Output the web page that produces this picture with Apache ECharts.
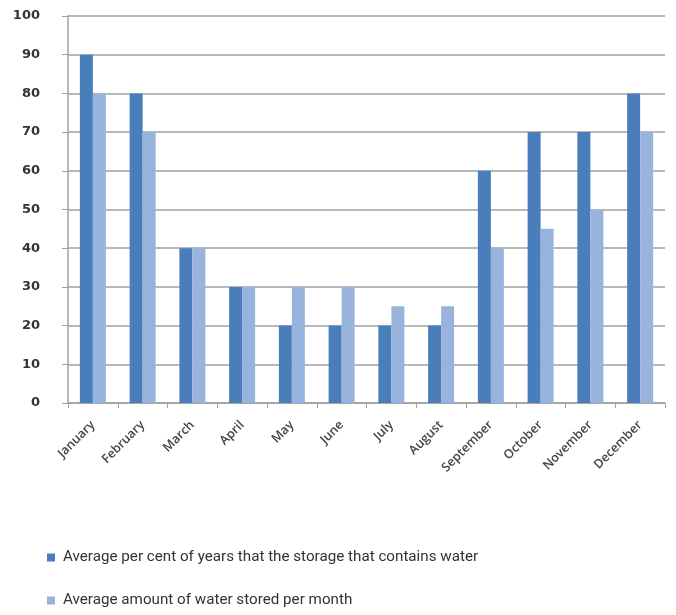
<!DOCTYPE html>
<html>
<head>
<meta charset="utf-8">
<script src="https://cdn.jsdelivr.net/npm/echarts@6/dist/echarts.min.js"></script>
<style>
  html, body { margin: 0; padding: 0; background: #fff; }
  #chart { width: 676px; height: 615px; }
</style>
</head>
<body>
<div id="chart"></div>
<script>
// Monthly water storage figures
const months = ['January', 'February', 'March', 'April', 'May', 'June',
                'July', 'August', 'September', 'October', 'November', 'December'];
const yearsWithWater = [90, 80, 40, 30, 20, 20, 20, 20, 60, 70, 70, 80];
const amountStored = [80, 70, 40, 30, 30, 30, 25, 25, 40, 45, 50, 70];
const seriesNames = [
  'Average per cent of years that the storage that contains water',
  'Average amount of water stored per month'
];

// One legend row per series, stacked below the plot
function legendRow(name, top) {
  return {
    orient: 'vertical',
    left: 42,
    top: top,
    itemWidth: 8,
    itemHeight: 8,
    icon: 'rect',
    textStyle: {
      fontFamily: 'Roboto',
      fontSize: 15.2,
      color: '#333',
      padding: [0, 0, 0, 3]
    },
    data: [name]
  };
}

const chart = echarts.init(document.getElementById('chart'));
chart.setOption({
  animation: false,
  grid: { left: 68, right: 11, top: 16, bottom: 212 },
  legend: [legendRow(seriesNames[0], 545), legendRow(seriesNames[1], 588)],
  xAxis: {
    type: 'category',
    data: months,
    axisLine: { lineStyle: { color: '#a0a0a0', width: 1.5 } },
    axisTick: { show: true, length: 5, lineStyle: { color: '#a0a0a0' } },
    axisLabel: {
      rotate: 45,
      interval: 0,
      margin: 20,
      fontFamily: 'Open Sans',
      fontWeight: 600,
      fontSize: 12.5,
      color: '#444'
    }
  },
  yAxis: {
    type: 'value',
    min: 0,
    max: 100,
    interval: 10,
    axisLine: { show: true, lineStyle: { color: '#a0a0a0', width: 1.5 } },
    axisTick: { show: true, length: 6, lineStyle: { color: '#a0a0a0' } },
    splitLine: { lineStyle: { color: '#a0a0a0', width: 1.5 } },
    axisLabel: {
      margin: 28,
      fontFamily: 'DejaVu Sans',
      fontWeight: 'bold',
      fontSize: 13,
      color: '#333'
    }
  },
  series: [
    {
      name: seriesNames[0],
      type: 'bar',
      data: yearsWithWater,
      barWidth: 13,
      barGap: '0%',
      itemStyle: { color: '#4a7ebb' }
    },
    {
      name: seriesNames[1],
      type: 'bar',
      data: amountStored,
      barWidth: 13,
      barGap: '0%',
      itemStyle: { color: '#98b4dc' }
    }
  ]
});
</script>
</body>
</html>
